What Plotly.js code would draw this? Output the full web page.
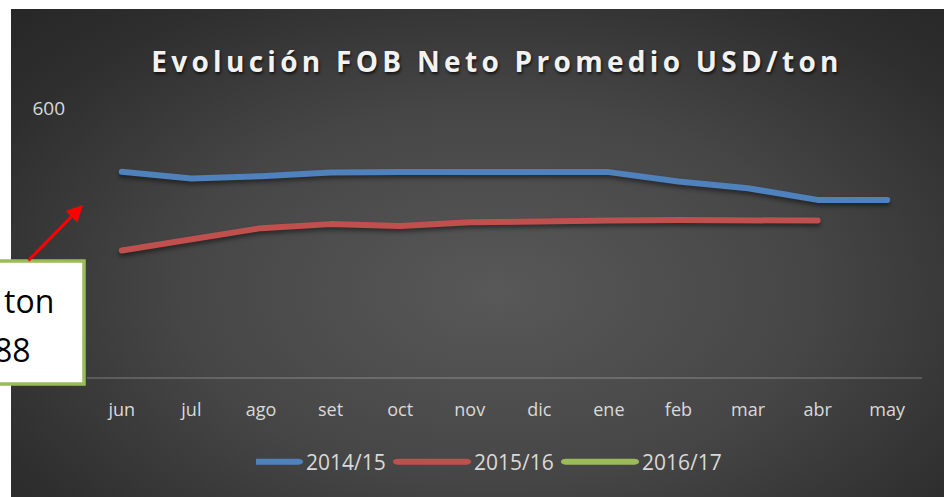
<!DOCTYPE html>
<html>
<head>
<meta charset="utf-8">
<script src="https://cdn.plot.ly/plotly-3.0.1.min.js"></script>
<style>
  html, body { margin: 0; padding: 0; background: #ffffff; }
  #wrap { position: relative; width: 944px; height: 497px; overflow: hidden; }
  #bg { position: absolute; left: 11px; top: 9px; width: 933px; height: 488px;
        background: radial-gradient(ellipse 75% 85% at 52% 58%, #585858 0%, #464646 45%, #2e2e2e 80%, #262626 100%); }
  #chart { position: absolute; left: 0; top: 0; width: 944px; height: 497px; }
  .gtitle { letter-spacing: 4.3px; }
  .scatterlayer path.js-line { stroke-linecap: round; stroke-linejoin: round;
        filter: drop-shadow(0px 3px 2px rgba(0,0,0,0.45)); }
  .legend path.js-line { stroke-linecap: round; transform-box: fill-box;
        transform-origin: right center; transform: translateX(-3px) scaleX(1.7); }
</style>
</head>
<body>
<div id="wrap">
  <div id="bg"></div>
  <div id="chart"></div>
</div>
<script>
const months = ["jun","jul","ago","set","oct","nov","dic","ene","feb","mar","abr","may"];
const s2014_15 = [458, 443, 448, 456, 457, 458, 457, 457, 436, 421, 395, 395];
const s2015_16 = [282, 308, 332, 341, 337, 345, 348, 349, 350, 350, 349, null];
const s2016_17 = [null, null, null, null, null, null, null, null, null, null, null, null];
const seriesNames = ["2014/15", "2015/16", "2016/17"];
const seriesColors = ["#4F81BD", "#C0504D", "#9BBB59"];
const yTicks = [0, 600];
const boxLines = ["ton", "88"];

const allSeries = [s2014_15, s2015_16, s2016_17];
const traces = allSeries.map((vals, i) => ({
  type: "scatter",
  mode: "lines",
  x: months,
  y: vals,
  name: seriesNames[i],
  line: { color: seriesColors[i], width: 6 },
  connectgaps: false,
  hoverinfo: "x+y+name"
}));

// pixel helpers for paper coordinates (plot area 87..922 x, 108..377 y)
const L = 87, R = 922, T = 108, B = 377;
const px = v => (v - L) / (R - L);
const py = v => (B - v) / (B - T);

const layout = {
  width: 944, height: 497,
  margin: { l: L, r: 944 - R, t: T, b: 497 - B, pad: 0 },
  paper_bgcolor: "rgba(0,0,0,0)",
  plot_bgcolor: "rgba(0,0,0,0)",
  font: { family: "'Open Sans', sans-serif", color: "#d9d9d9", size: 17 },
  title: {
    text: "<b>Evolución FOB Neto Promedio USD/ton</b>",
    font: { family: "'Open Sans', sans-serif", size: 28, color: "#f2f2f2",
            shadow: "1px 2px 3px rgba(0,0,0,0.7)" },
    x: px(497), xref: "paper", xanchor: "center",
    y: 1 - 62 / 497, yref: "container", yanchor: "middle"
  },
  xaxis: {
    type: "category",
    range: [-0.5, months.length - 0.5],
    showgrid: false,
    showline: true, linecolor: "rgba(255,255,255,0.17)", linewidth: 1.5,
    zeroline: false,
    ticks: "", ticklabelstandoff: 16,
    tickfont: { family: "'Open Sans', sans-serif", size: 18, color: "#d9d9d9" },
    fixedrange: true
  },
  yaxis: {
    range: [0, 600],
    tickvals: yTicks,
    ticktext: yTicks.map(String),
    showgrid: true, gridcolor: "rgba(255,255,255,0.17)", gridwidth: 1.5,
    zeroline: false, showline: false,
    ticks: "", ticklabelstandoff: 21,
    tickfont: { family: "'Open Sans', sans-serif", size: 19, color: "#d9d9d9" },
    fixedrange: true
  },
  showlegend: true,
  legend: {
    orientation: "h",
    x: px(508), xanchor: "center",
    y: py(462), yanchor: "middle",
    font: { family: "'Open Sans', sans-serif", size: 21, color: "#d9d9d9" },
    bgcolor: "rgba(0,0,0,0)",
    entrywidth: 113, entrywidthmode: "pixels",
    itemwidth: 40
  },
  shapes: [
    { type: "rect", xref: "paper", yref: "paper",
      x0: px(-10), x1: px(84), y0: py(384), y1: py(261),
      fillcolor: "#ffffff", line: { color: "#9BBB59", width: 3.5 }, layer: "above" }
  ],
  annotations: [
    { xref: "paper", yref: "paper", x: px(83), y: py(205),
      ax: -56, ay: 57, axref: "pixel", ayref: "pixel",
      text: "", showarrow: true, arrowhead: 2, arrowsize: 1.1, arrowwidth: 3,
      arrowcolor: "#ff0000", standoff: 0 },
    { xref: "paper", yref: "paper", x: px(56), y: py(300), xanchor: "right", yanchor: "middle",
      text: boxLines[0], showarrow: false,
      font: { family: "'Open Sans', sans-serif", size: 32, color: "#000000" } },
    { xref: "paper", yref: "paper", x: px(33), y: py(349), xanchor: "right", yanchor: "middle",
      text: boxLines[1], showarrow: false,
      font: { family: "'Open Sans', sans-serif", size: 32, color: "#000000" } }
  ]
};

Plotly.newPlot("chart", traces, layout, { displayModeBar: false, staticPlot: true });
</script>
</body>
</html>
